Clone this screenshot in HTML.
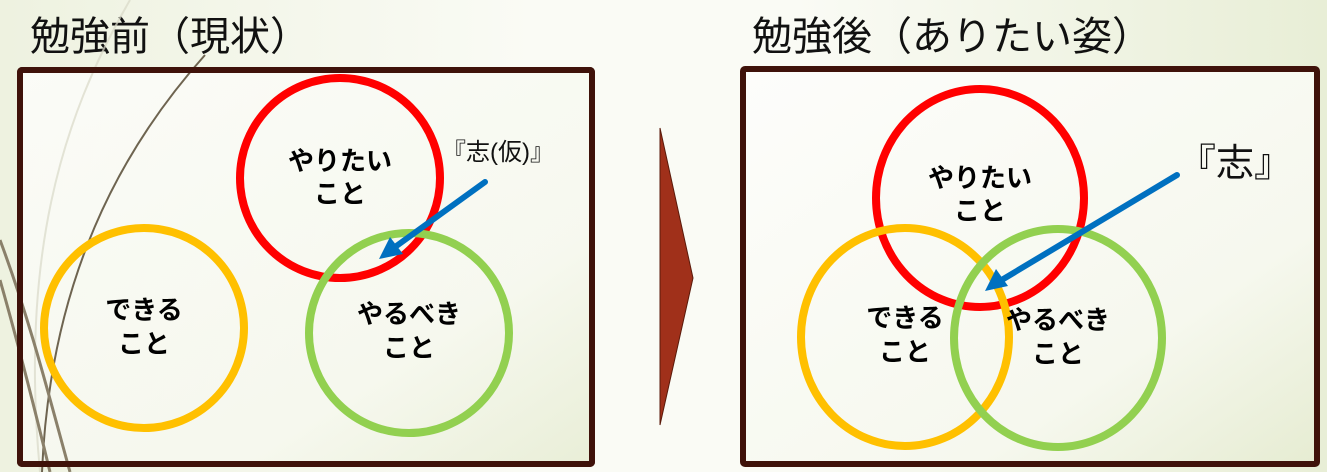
<!DOCTYPE html>
<html><head><meta charset="utf-8"><style>
html,body{margin:0;padding:0}
body{width:1327px;height:472px;overflow:hidden;background:linear-gradient(90deg,#eef2e0 0%,#fafbf5 40%,#fafbf5 60%,#e8eed6 100%)}
svg{display:block}
text{font-family:"Liberation Sans","Noto Sans CJK JP",sans-serif}
</style></head><body>
<svg width="1327" height="472" viewBox="0 0 1327 472">
<defs>
<linearGradient id="bx" x1="0" x2="1" y1="0" y2="1">
<stop offset="0" stop-color="#fdfdfb"/><stop offset="0.7" stop-color="#f6f8ee"/><stop offset="1" stop-color="#e6ecd2"/>
</linearGradient>
</defs>
<text x="30" y="50" font-size="40" fill="#111">勉強前（現状）</text>
<text x="752" y="50" font-size="40" fill="#111">勉強後（ありたい姿）</text>
<rect x="20" y="70" width="572" height="394" fill="url(#bx)" fill-opacity="0.85" stroke="#3f120a" stroke-width="6" rx="2"/>
<rect x="743" y="69" width="574" height="395" fill="url(#bx)" stroke="#3f120a" stroke-width="6" rx="2"/>
<!-- decorative curves -->
<path d="M130 0 C60 120 20 260 40 472" stroke="#d8d8c8" stroke-width="2" fill="none" opacity="0.7"/>
<path d="M205 55 C120 150 50 280 42 472" stroke="#6e6450" stroke-width="2" fill="none"/>
<path d="M0 240 C30 320 50 400 70 472" stroke="#8a806a" stroke-width="3" fill="none"/>
<path d="M0 280 C20 350 35 410 50 472" stroke="#8a806a" stroke-width="3" fill="none"/>
<rect x="20" y="70" width="572" height="394" fill="none" stroke="#3f120a" stroke-width="6" rx="2"/>
<!-- left -->
<circle cx="340" cy="178" r="100" fill="none" stroke="#ff0000" stroke-width="8"/>
<circle cx="144" cy="328" r="100" fill="none" stroke="#ffc000" stroke-width="8"/>
<circle cx="409" cy="333" r="100" fill="none" stroke="#92d050" stroke-width="8"/>
<line x1="485" y1="182" x2="395" y2="247" stroke="#0070c0" stroke-width="6" stroke-linecap="round"/>
<polygon points="379,259 390,237 403,254" fill="#0070c0"/>
<text x="442" y="160" font-size="24" fill="#111">『志(仮)』</text>
<g font-size="26" font-weight="bold" text-anchor="middle" fill="#000">
<text x="340" y="170">やりたい</text><text x="340" y="203">こと</text>
<text x="144" y="319">できる</text><text x="144" y="353">こと</text>
<text x="409" y="323">やるべき</text><text x="409" y="357">こと</text>
</g>
<!-- arrow -->
<polygon points="660,128 693,278 660,425" fill="#a0301a" stroke="#5a1a0a" stroke-width="1"/>
<!-- right -->
<ellipse cx="980" cy="198" rx="104" ry="109" fill="none" stroke="#ff0000" stroke-width="8"/>
<ellipse cx="905" cy="337" rx="104" ry="109" fill="none" stroke="#ffc000" stroke-width="8"/>
<ellipse cx="1058" cy="338" rx="104" ry="109" fill="none" stroke="#92d050" stroke-width="8"/>
<line x1="1177" y1="175" x2="1000" y2="281" stroke="#0070c0" stroke-width="6" stroke-linecap="round"/>
<polygon points="985,291 996,269 1008,286" fill="#0070c0"/>
<text x="1178" y="176" font-size="38" fill="#111">『志』</text>
<g font-size="26" font-weight="bold" text-anchor="middle" fill="#000">
<text x="980" y="187">やりたい</text><text x="980" y="220">こと</text>
<text x="905" y="327">できる</text><text x="905" y="361">こと</text>
<text x="1058" y="329">やるべき</text><text x="1058" y="363">こと</text>
</g>
</svg>
</body></html>
